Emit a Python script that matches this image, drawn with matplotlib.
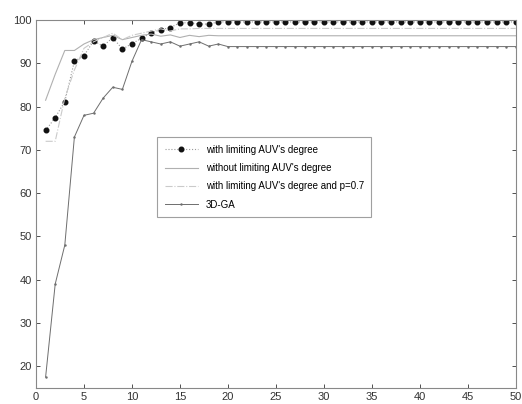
import numpy as np
import matplotlib
matplotlib.use('Agg')
import matplotlib.pyplot as plt

plt.rcParams['font.family'] = ['Liberation Sans', 'DejaVu Sans']

# generations 1..50
gens = list(range(1, 51))

# with limiting AUV's degree
with_limit = [74.5, 77.5, 81.2, 90.5, 91.8, 95.2, 94.0, 96.0, 93.3, 94.6,
              95.8, 97.1, 97.8, 98.3, 99.4, 99.4, 99.1, 99.1, 99.6, 99.6] + [99.6] * 30

# without limiting AUV's degree
without_limit = [81.5, 87.5, 93.0, 93.0, 94.5, 95.5, 96.0, 96.5, 95.5, 96.0,
                 96.5, 96.8, 96.3, 96.6, 96.0, 96.5, 96.2, 96.5, 96.4, 96.4] + [96.4] * 30

# with limiting AUV's degree and p=0.7
with_limit_p07 = [72.0, 72.0, 82.0, 88.5, 93.5, 95.0, 96.0, 97.0, 95.5, 96.5,
                  97.0, 97.5, 98.0, 97.5, 98.0, 98.0, 98.1, 98.1, 98.1, 98.1] + [98.1] * 30

# 3D-GA
ga3d = [17.5, 39.0, 48.0, 73.0, 78.0, 78.5, 82.0, 84.5, 84.0, 90.5,
        95.5, 95.0, 94.5, 95.0, 94.0, 94.5, 95.0, 94.0, 94.5, 93.9] + [93.9] * 30

labels = ["with limiting AUV's degree", "without limiting AUV's degree",
          "with limiting AUV's degree and p=0.7", "3D-GA"]

fig = plt.figure(figsize=(5.22, 4.04), dpi=100)
ax = fig.add_axes([0.069, 0.04, 0.919, 0.91])

ax.plot(gens, with_limit, color='#9a9a9a', linestyle=':', linewidth=0.8,
        marker='o', markersize=3.3, markerfacecolor='#111111', markeredgecolor='#111111',
        label=labels[0])
ax.plot(gens, without_limit, color='#b0b0b0', linestyle='-', linewidth=0.8,
        label=labels[1])
ax.plot(gens, with_limit_p07, color='#cacaca', linestyle='-.', linewidth=0.8,
        label=labels[2])
ax.plot(gens, ga3d, color='#6e6e6e', linestyle='-', linewidth=0.7,
        marker='.', markersize=1.5, label=labels[3])

ax.set_xlim(0, 50)
ax.set_ylim(15, 100)
ax.set_xticks(np.arange(0, 51, 5))
ax.set_yticks(np.arange(20, 101, 10))
ax.tick_params(direction='in', top=True, right=True, labelsize=8,
               colors='#333333', length=3, width=0.6, pad=3)
for s in ax.spines.values():
    s.set_color('#888888')
    s.set_linewidth(0.8)

leg = ax.legend(loc='upper left', bbox_to_anchor=(0.252, 0.682), borderaxespad=0,
                fontsize=7, frameon=True, fancybox=False, handlelength=3.4,
                labelspacing=0.85, borderpad=0.8, numpoints=1)
leg.get_frame().set_edgecolor('#888888')
leg.get_frame().set_linewidth(0.8)

fig.savefig('out.png', dpi=100)
